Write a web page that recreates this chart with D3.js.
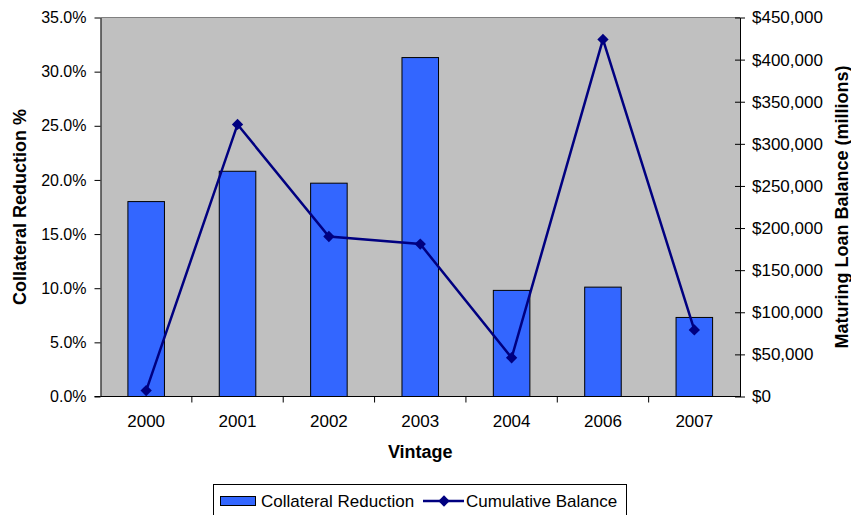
<!DOCTYPE html>
<html>
<head>
<meta charset="utf-8">
<script src="https://cdn.jsdelivr.net/npm/d3@7"></script>
<style>
  body { margin: 0; background: #fff; }
  svg text { font-family: "Liberation Sans", Arial, sans-serif; fill: #000; }
</style>
</head>
<body>
<div id="chart"></div>
<script>
const vintages = ['2000', '2001', '2002', '2003', '2004', '2006', '2007']
const collateralReduction = [18.0, 20.8, 19.7, 31.3, 9.8, 10.1, 7.3]
const cumulativeBalance = [7000, 323000, 190000, 181000, 46000, 424000, 79000]
const leftTicks = [0, 5, 10, 15, 20, 25, 30, 35]
const rightTicks = [0, 50000, 100000, 150000, 200000, 250000, 300000, 350000, 400000, 450000]

const width = 851, height = 515
const margin = { top: 17.5, right: 111, bottom: 118.5, left: 100.5 }
const innerW = width - margin.left - margin.right
const innerH = height - margin.top - margin.bottom

const svg = d3.select('#chart').append('svg')
    .attr('width', width)
    .attr('height', height)

const chart = svg.append('g')
    .attr('transform', `translate(${margin.left},${margin.top})`)

// scales
const x = d3.scaleBand().domain(vintages).range([0, innerW])
const yLeft = d3.scaleLinear().domain([0, 35]).range([innerH, 0])
const yRight = d3.scaleLinear().domain([0, 450000]).range([innerH, 0])

// plot background
chart.append('rect')
    .attr('width', innerW)
    .attr('height', innerH)
    .attr('fill', '#c0c0c0')
chart.append('line')
    .attr('x1', 0).attr('x2', innerW)
    .attr('y1', 0).attr('y2', 0)
    .attr('stroke', '#808080')

// bars, excel gap width 150%
const barW = x.bandwidth() / 2.5
chart.selectAll('.bar')
    .data(vintages)
    .join('rect')
    .attr('class', 'bar')
    .attr('x', d => x(d) + (x.bandwidth() - barW) / 2)
    .attr('width', barW)
    .attr('y', (d, i) => yLeft(collateralReduction[i]))
    .attr('height', (d, i) => innerH - yLeft(collateralReduction[i]))
    .attr('fill', '#3366ff')
    .attr('stroke', '#000')
    .attr('stroke-width', 1)

// line series
const cx = d => x(d) + x.bandwidth() / 2
const line = d3.line()
    .x(d => cx(d))
    .y((d, i) => yRight(cumulativeBalance[i]))
chart.append('path')
    .datum(vintages)
    .attr('d', line)
    .attr('fill', 'none')
    .attr('stroke', '#000080')
    .attr('stroke-width', 2.5)

const marker = d3.symbol().type(d3.symbolSquare).size(64)
chart.selectAll('.marker')
    .data(vintages)
    .join('path')
    .attr('class', 'marker')
    .attr('transform', (d, i) => `translate(${cx(d)},${yRight(cumulativeBalance[i])}) rotate(45)`)
    .attr('d', marker)
    .attr('fill', '#000080')

// left axis
const leftAxis = d3.axisLeft(yLeft)
    .tickValues(leftTicks)
    .tickFormat(d => d.toFixed(1) + '%')
    .tickSizeOuter(0)
chart.append('g')
    .call(leftAxis)
    .call(g => g.selectAll('.tick line').attr('x1', 0).attr('x2', -6))
    .call(g => g.selectAll('text').attr('x', -14).style('font-size', '16px'))
    .call(g => g.select('.domain').attr('stroke', '#000'))

// right axis
const rightAxis = d3.axisRight(yRight)
    .tickValues(rightTicks)
    .tickFormat(d => '$' + d3.format(',')(d))
    .tickSizeOuter(0)
chart.append('g')
    .attr('transform', `translate(${innerW},0)`)
    .call(rightAxis)
    .call(g => g.selectAll('.tick line').attr('x1', -5).attr('x2', 5))
    .call(g => g.selectAll('text').attr('x', 12).style('font-size', '17px'))

// x axis, ticks between categories
const xAxisG = chart.append('g')
    .attr('transform', `translate(0,${innerH})`)
xAxisG.append('line')
    .attr('x1', 0).attr('x2', innerW)
    .attr('stroke', '#000')
xAxisG.selectAll('.sep')
    .data(vintages.slice(1))
    .join('line')
    .attr('x1', d => x(d)).attr('x2', d => x(d))
    .attr('y1', 0).attr('y2', 6)
    .attr('stroke', '#000')
xAxisG.append('line')
    .attr('x1', -6).attr('x2', 0)
    .attr('stroke', '#000')
xAxisG.selectAll('.xlabel')
    .data(vintages)
    .join('text')
    .attr('x', d => cx(d))
    .attr('y', 30)
    .attr('text-anchor', 'middle')
    .style('font-size', '17px')
    .text(d => d)

// axis titles
svg.append('text')
    .attr('x', margin.left + innerW / 2)
    .attr('y', 458)
    .attr('text-anchor', 'middle')
    .style('font-size', '18px')
    .style('font-weight', 'bold')
    .text('Vintage')

svg.append('text')
    .attr('transform', `translate(26,${margin.top + innerH / 2}) rotate(-90)`)
    .attr('text-anchor', 'middle')
    .style('font-size', '18px')
    .style('font-weight', 'bold')
    .text('Collateral Reduction %')

svg.append('text')
    .attr('transform', `translate(848,${margin.top + innerH / 2}) rotate(-90)`)
    .attr('text-anchor', 'middle')
    .style('font-size', '18px')
    .style('font-weight', 'bold')
    .text('Maturing Loan Balance (millions)')

// legend
const legend = svg.append('g')
legend.append('rect')
    .attr('x', 213.5).attr('y', 484.5)
    .attr('width', 413).attr('height', 40)
    .attr('fill', '#fff')
    .attr('stroke', '#000')
legend.append('rect')
    .attr('x', 220.5).attr('y', 496.5)
    .attr('width', 35).attr('height', 9)
    .attr('fill', '#3366ff')
    .attr('stroke', '#000')
legend.append('text')
    .attr('x', 261).attr('y', 507)
    .style('font-size', '17px')
    .text('Collateral Reduction')
legend.append('line')
    .attr('x1', 423).attr('x2', 464)
    .attr('y1', 501).attr('y2', 501)
    .attr('stroke', '#000080')
    .attr('stroke-width', 2.5)
legend.append('path')
    .attr('transform', 'translate(444,501) rotate(45)')
    .attr('d', marker)
    .attr('fill', '#000080')
legend.append('text')
    .attr('x', 466).attr('y', 507)
    .style('font-size', '17px')
    .text('Cumulative Balance')
</script>
</body>
</html>
